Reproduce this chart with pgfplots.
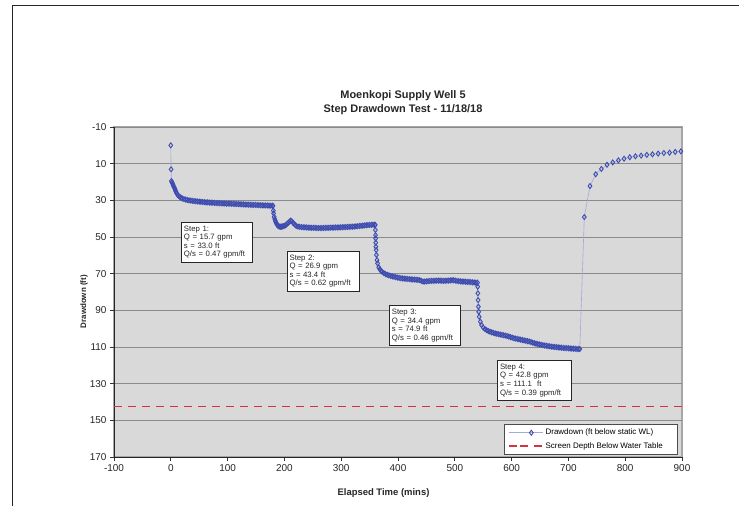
\documentclass[border=0pt]{standalone}
\usepackage{fontspec}
\setmainfont{Liberation Sans}
\usepackage{pgfplots}
\pgfplotsset{compat=1.18}
\definecolor{bgc}{HTML}{D9D9D9}
\definecolor{gridc}{HTML}{8A8A8A}
\definecolor{dblue}{HTML}{3E4CB0}
\definecolor{lblue}{HTML}{A3ABDA}
\definecolor{dred}{HTML}{D3333F}
\definecolor{framec}{HTML}{A6A6A6}
\begin{document}
\begin{tikzpicture}[x=1bp,y=1bp]
\useasboundingbox (0,0) rectangle (739,506);
\fill[white] (0,0) rectangle (739,506);
\draw[line width=1.6bp, black!85] (12.5,-2) -- (12.5,500.5) -- (741,500.5);
\node[anchor=base, font=\bfseries\fontsize{11}{12}\selectfont, text=black!85] at (403,407) {Moenkopi Supply Well 5};
\node[anchor=base, font=\bfseries\fontsize{11}{12}\selectfont, text=black!85] at (403,393.7) {Step Drawdown Test - 11/18/18};
\node[anchor=base, font=\bfseries\fontsize{9.5}{11}\selectfont, text=black!85] at (383.5,10) {Elapsed Time (mins)};
\node[rotate=90, font=\bfseries\fontsize{8}{10}\selectfont, text=black!85] at (84,204.3) {Drawdown (ft)};
\begin{axis}[
 at={(114bp,49bp)}, anchor=south west,
 width=568bp, height=330bp, scale only axis,
 xmin=-100, xmax=900, ymin=-10, ymax=170, y dir=reverse,
 xtick={-100,0,...,900}, ytick={-10,10,...,170},
 ymajorgrids, major grid style={gridc, line width=0.9bp},
 axis background/.style={fill=bgc, draw=framec, line width=1.5bp},
 axis line style={draw=none},
 tick align=outside, major tick length=4bp,
 xtick pos=bottom, ytick pos=left,
 tick style={black!80, line width=0.8bp},
 ticklabel style={font=\fontsize{10}{11}\selectfont, text=black!85},
 /pgf/number format/assume math mode=true,
 /pgf/number format/1000 sep={},
 clip=false,
 legend style={at={(0.993,0.006)}, anchor=south east, draw=black!70, line width=0.8bp, fill=white,
   font=\fontsize{8}{9.5}\selectfont, inner xsep=4bp, inner ysep=3bp, row sep=2bp,
   cells={anchor=west}},
 legend image code/.code={\path (0bp,0bp) -- (11bp,0bp); \draw[mark repeat=2,mark phase=2,#1] plot coordinates {(11bp,0bp) (22.5bp,0bp) (34bp,0bp)};},
]
\draw[black!85, line width=0.9bp] (axis cs:-100,-10) -- (axis cs:-100,170) -- (axis cs:900,170);
\addplot[lblue, line width=0.6bp, mark=diamond, mark size=2.5bp, mark options={solid, draw=dblue, fill opacity=0, line width=0.9bp}] table {
x y
0 0
0.5 13.1
1 19.5
2 20.2
3 20.8
4 21.6
5 22.4
6 23.0
7 23.6
8 24.4
9 25.2
10 26.0
12 27.0
14 27.6
16 28.1
18 28.6
20 29.0
23 29.3
26 29.6
29 29.8
32 30.0
35 30.1
38 30.3
41 30.4
44 30.5
47 30.6
50 30.7
53 30.8
56 30.9
59 31.0
62 31.1
65 31.1
68 31.2
71 31.3
74 31.3
77 31.4
80 31.5
83 31.5
86 31.6
89 31.6
92 31.7
95 31.7
98 31.8
101 31.8
104 31.8
107 31.9
110 31.9
113 32.0
116 32.0
119 32.1
122 32.1
125 32.2
128 32.2
131 32.3
134 32.3
137 32.4
140 32.4
143 32.5
146 32.5
149 32.5
152 32.6
155 32.6
158 32.7
161 32.7
164 32.8
167 32.8
170 32.8
173 32.9
176 32.9
179 33.0
180 33.0
180.5 35.6
181 37.1
182 39.0
183 40.2
184 41.2
185 42.0
186 42.6
187 43.2
188 43.6
189 44.0
191 44.3
193 44.4
195 44.4
197 44.2
199 44.0
201 43.8
203 43.3
205 42.7
207 42.2
209 41.6
211 41.1
213 41.4
215 42.2
217 42.8
219 43.5
221 44.0
224 44.3
227 44.5
230 44.6
233 44.7
236 44.7
239 44.8
242 44.9
245 44.9
248 45.0
251 45.0
254 45.0
257 45.1
260 45.1
263 45.1
266 45.1
269 45.1
272 45.0
275 45.0
278 45.0
281 44.9
284 44.9
287 44.9
290 44.8
293 44.8
296 44.8
299 44.7
302 44.7
305 44.6
308 44.6
311 44.5
314 44.5
317 44.4
320 44.4
323 44.3
326 44.2
329 44.1
332 44.0
335 43.9
338 43.8
341 43.7
344 43.6
347 43.5
350 43.4
353 43.4
356 43.3
359 43.4
360 43.4
360.2 46.2
360.4 49.0
360.6 50.8
360.8 53.1
361 55.3
361.5 57.1
362 59.8
363 62.6
364 64.4
366 66.5
368 67.6
370 68.4
372 69.0
375 69.7
378 70.2
381 70.6
384 70.9
387 71.2
390 71.5
393 71.7
396 71.9
399 72.1
402 72.3
405 72.5
408 72.6
411 72.7
414 72.8
417 72.9
420 73.0
423 73.1
426 73.2
429 73.2
432 73.3
435 73.4
438 73.5
441 73.9
444 74.3
447 74.3
450 74.2
453 74.1
456 74.0
459 73.9
462 73.9
465 73.9
468 73.8
471 73.8
474 73.8
477 73.9
480 73.9
483 73.9
486 73.8
489 73.8
492 73.7
495 73.6
498 73.6
501 73.8
504 74.0
507 74.1
510 74.2
513 74.3
516 74.3
519 74.4
522 74.5
525 74.5
528 74.6
531 74.7
534 74.8
537 74.9
540 74.9
540.3 77.1
540.6 80.7
541 84.4
541.5 88.0
542 90.8
543 93.5
545 96.2
547 98.0
550 99.4
553 100.2
556 100.8
559 101.3
562 101.7
565 102.0
568 102.3
571 102.6
574 102.8
577 103.0
580 103.2
583 103.4
586 103.6
589 103.8
592 104.0
595 104.3
598 104.6
601 104.9
604 105.2
607 105.4
610 105.6
613 105.8
616 106.0
619 106.2
622 106.4
625 106.6
628 106.8
631 107.0
634 107.3
637 107.6
640 107.9
643 108.2
646 108.4
649 108.6
652 108.8
655 109.0
658 109.2
661 109.3
664 109.5
667 109.6
670 109.8
673 109.9
676 110.0
679 110.1
682 110.2
685 110.3
688 110.4
691 110.5
694 110.6
697 110.6
700 110.7
703 110.8
706 110.9
709 110.9
712 111.0
715 111.1
718 111.1
720 111.1
728 39.1
738 22.2
748 15.8
758 12.9
768 10.6
778 9.3
788 8.2
798 7.3
808 6.5
818 6.0
828 5.6
838 5.2
848 4.9
858 4.5
868 4.2
878 4.0
888 3.6
898 3.3
};
\addlegendentry{\makebox[126bp][l]{Drawdown (ft below static WL)}}
\addplot[dred, line width=1.6bp, dash pattern=on 8bp off 6bp] coordinates {(-100,142.5) (900,142.5)};
\addlegendentry{Screen Depth Below Water Table}
\tikzset{stepbox/.style={draw=black!85, line width=0.8bp, fill=white, anchor=north west, align=left, inner xsep=2.5bp, inner ysep=3.5bp, font=\fontsize{7.8}{8.6}\selectfont, text=black!85}}
\node[stepbox, text width=66bp] at (axis cs:18,41.8) {Step 1:\\Q = 15.7 gpm\\s = 33.0 ft\\Q/s = 0.47 gpm/ft};
\node[stepbox, text width=67bp] at (axis cs:204,57.6) {Step 2:\\Q = 26.9 gpm\\s = 43.4 ft\\Q/s = 0.62 gpm/ft};
\node[stepbox, text width=66bp] at (axis cs:384,87.3) {Step 3:\\Q = 34.4 gpm\\s = 74.9 ft\\Q/s = 0.46 gpm/ft};
\node[stepbox, text width=69bp] at (axis cs:574.5,117.1) {Step 4:\\Q = 42.8 gpm\\s = 111.1~ ft\\Q/s = 0.39 gpm/ft};
\end{axis}
\end{tikzpicture}
\end{document}
